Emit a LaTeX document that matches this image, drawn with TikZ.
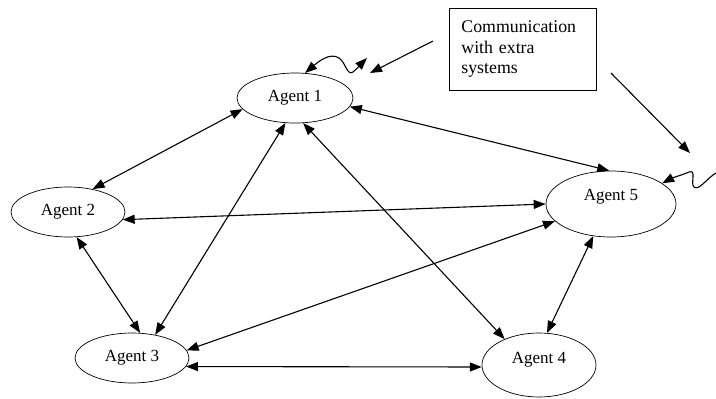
\documentclass[tikz,border=0pt]{standalone}
\usepackage{fontspec}
\setmainfont{Liberation Serif}
\usetikzlibrary{shapes.geometric,arrows.meta}
\begin{document}
\begin{tikzpicture}[x=1pt,y=-1pt,
  agent/.style={draw, ellipse, inner sep=0pt, line width=0.7pt,
    font=\fontsize{17}{20}\selectfont},
  link/.style={line width=1.1pt, {Triangle[length=12pt,width=9pt]}-{Triangle[length=12pt,width=9pt]}},
  onelink/.style={line width=1.1pt, -{Triangle[length=12pt,width=9pt]}},
  infobox/.style={draw, line width=0.8pt, rectangle, anchor=north west,
    minimum width=147pt, minimum height=82pt, text width=123pt,
    inner xsep=12pt, align=left, font=\fontsize{17.8}{20.5}\selectfont}]
\useasboundingbox (0,0) rectangle (716,399);

\node[agent, minimum width=116pt, minimum height=50pt] (a1) at (295,98) {Agent 1};
\node[agent, minimum width=114pt, minimum height=50pt] (a2) at (68,212) {Agent 2};
\node[agent, minimum width=114pt, minimum height=50pt] (a3) at (132,358) {Agent 3};
\node[agent, minimum width=114pt, minimum height=64pt] (a4) at (539,365) {\raisebox{5pt}[\height][\depth]{Agent 4}};
\node[agent, minimum width=130pt, minimum height=66pt] (a5) at (611,204) {\raisebox{7pt}[\height][\depth]{Agent 5}};

\node[infobox] (box) at (449,8) {Communication\\with extra\\systems};

% free ends
\coordinate (b1s) at (433,41);
\coordinate (b1e) at (370,73);
\coordinate (b2s) at (611,73);
\coordinate (b2e) at (690,153);
\coordinate (w1e) at (367,58);
\coordinate (w5s) at (716,173);

% bidirectional links
\draw[link] (a1.192) -- (a2.43);
\draw[link] (a1.351) -- (a5.93);
\draw[link] (a1.249) -- (a3.45);
\draw[link] (a1.288) -- (a4.143);
\draw[link] (a2.352) -- (a5.180);
\draw[link] (a2.289) -- (a3.72);
\draw[link] (a3.8) -- (a5.197);
\draw[link] (a3.351) -- (a4.182);
\draw[link] (a5.241) -- (a4.76);

% external communication
\draw[onelink] (b1s) -- (b1e);
\draw[onelink] (b2s) -- (b2e);
\draw[link] (a1.68) .. controls (318,62) and (330,52) .. (339,58)
  .. controls (346,63) and (347,76) .. (353,72)
  .. controls (357,69) and (362,63) .. (w1e);
\draw[onelink] (w5s) .. controls (706,179) and (699,191) .. (694,187)
  .. controls (690,184) and (697,169) .. (689,172)
  .. controls (682,175) and (672,178) .. (a5.22);
\end{tikzpicture}
\end{document}
